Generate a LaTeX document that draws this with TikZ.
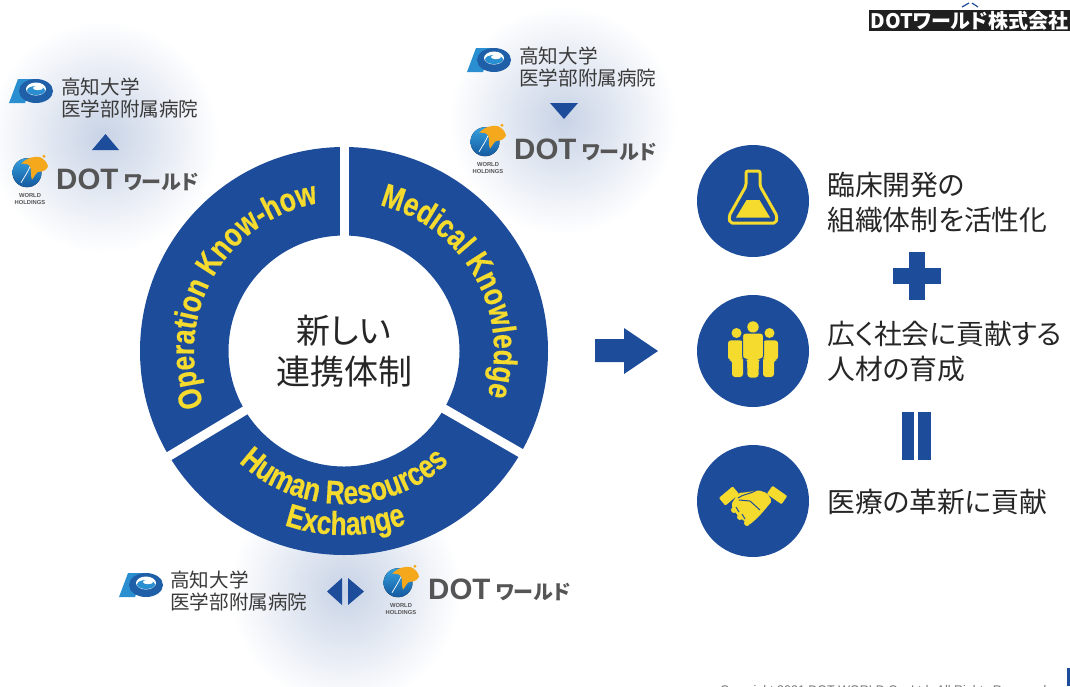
\documentclass[tikz,border=0pt]{standalone}
\usepackage{fontspec}
\usetikzlibrary{decorations.text}

\newfontfamily\jpfont[RawFeature=+palt]{Noto Sans CJK JP}
\newfontfamily\latinfont{Liberation Sans}
\newfontfamily\ringfont[FakeStretch=0.8,FakeBold=0.5]{Liberation Sans}

\definecolor{ringblue}{HTML}{1D4C9A}
\definecolor{ringyellow}{HTML}{F4DB2E}
\definecolor{glowblue}{HTML}{C8D3E6}
\definecolor{kochilight}{HTML}{2A8FD0}
\definecolor{kochidark}{HTML}{1F5FA8}
\definecolor{globetop}{HTML}{35A0DE}
\definecolor{globelow}{HTML}{14599F}
\definecolor{globeorange}{HTML}{F5A81C}
\definecolor{wordgrey}{HTML}{555555}
\definecolor{textgrey}{HTML}{3A3A3A}

\newcommand{\dotname}{\latinfont\bfseries\fontsize{29.5}{29.5}\selectfont DOT\hspace{5pt}\jpfont\bfseries\fontsize{20}{20}\selectfont ワールド}

\begin{document}
\begin{tikzpicture}
    [
        x=1pt,
        y=1pt,
        glow/.style={inner color=glowblue, outer color=white},
        hosp/.style={
                anchor=west,
                inner sep=0pt,
                align=left,
                text=textgrey,
                font=\jpfont\fontsize{19.6}{22}\selectfont,
            },
        result/.style={
                anchor=west,
                inner sep=0pt,
                align=left,
                text=black!85,
                font=\jpfont\fontsize{27.8}{35}\selectfont,
            },
        badge/.style={
                circle,
                inner sep=0pt,
                minimum size=112pt,
                fill=ringblue,
            },
        ringtext/.style={
                decorate,
                decoration={
                        text along path,
                        text align=center,
                        text={|\ringfont\bfseries\fontsize{#1}{#1}\selectfont\color{ringyellow}|\ringlabel},
                    },
            },
        kochilogo/.pic={
                \fill [kochilight] (-22,-12) -- (-13,12) -- (3,12) -- (-6,-12) -- cycle;
                \fill [kochidark] (5,0) ellipse [x radius=17, y radius=12];
                \fill [white] (5,2) ellipse [x radius=10, y radius=6.5];
                \fill [kochilight] (5,0.5) ellipse [x radius=9, y radius=4.5];
                \fill [white] (7,3) ellipse [x radius=5, y radius=2.2];
            },
        dotlogo/.pic={
                \fill [top color=globetop, bottom color=globelow] (0,0) circle [radius=14.5];
                \fill [globeorange] (-6,9) .. controls (0,15) and (8,17) .. (13,15.5)
                    .. controls (17,14) and (20.5,10) .. (21,6)
                    .. controls (19,2) and (15,1) .. (13,1)
                    .. controls (10,2) and (8,-3) .. (5,-7)
                    .. controls (3,-2) and (5,3) .. (3,6)
                    .. controls (2,9) and (-2,9) .. (-6,9) -- cycle;
                \fill [globeorange] (17,16.5) circle [radius=1.6];
                \draw [white, line width=0.7pt] (-6,-10) .. controls (-3,-5) and (1,1) .. (3,6);
                \node [inner sep=0pt, text=wordgrey, font=\latinfont\bfseries\fontsize{5.8}{7}\selectfont, align=center] (-world) at (3,-26.5) {WORLD\\HOLDINGS};
            },
        dotword/.style={
                anchor=west,
                inner sep=0pt,
                text=wordgrey,
            },
    ]

    \useasboundingbox (0,0) rectangle (1070,-686);

    % soft glows behind the partners
    \shade [glow] (103,-137) circle [radius=116];
    \shade [glow] (563,-120) circle [radius=114];
    \shade [glow] (345,-590) circle [radius=116];

    % ring with three gaps
    \coordinate (ringc) at (344,-351);
    \fill [ringblue, even odd rule] (ringc) circle [radius=204] (ringc) circle [radius=115.5];
    \draw [white, line width=9pt] (ringc) -- ++(90:207);
    \draw [white, line width=9pt] (ringc) -- ++(211:207);
    \draw [white, line width=9pt] (ringc) -- ++(330:207);

    % labels on the ring
    \def\ringlabel{Operation Know-how}
    \path [ringtext=33] (ringc) ++(220:150) arc [start angle=220, end angle=81, radius=150];
    \def\ringlabel{Medical Knowledge}
    \path [ringtext=33] (ringc) ++(99:150) arc [start angle=99, end angle=-40, radius=150];
    \def\ringlabel{Human Resources}
    \path [ringtext=33] (ringc) ++(205:153) arc [start angle=205, end angle=335, radius=153];
    \def\ringlabel{Exchange}
    \path [ringtext=33] (ringc) ++(226.5:184) arc [start angle=226.5, end angle=314.5, radius=184];

    \node [inner sep=0pt, align=center, text=black!85, font=\jpfont\fontsize{34}{41}\selectfont] (center) at (344,-351) {新しい\\連携体制};

    % top left partners
    \pic at (31,-91) {kochilogo};
    \node [hosp] (hospa) at (61,-98) {高知大学\\医学部附属病院};
    \fill [ringblue] (92,-150) -- (119,-150) -- (105.5,-134) -- cycle;
    \pic (doa) at (27,-172.7) {dotlogo};
    \node [dotword] (worda) at (56,-180) {\dotname};

    % top right partners
    \pic at (489,-60) {kochilogo};
    \node [hosp] (hospb) at (519,-67) {高知大学\\医学部附属病院};
    \fill [ringblue] (550,-103) -- (578,-103) -- (564,-119) -- cycle;
    \pic (dob) at (485,-141.7) {dotlogo};
    \node [dotword] (wordb) at (514,-150) {\dotname};

    % bottom partners
    \pic at (141,-585) {kochilogo};
    \node [hosp] (hospc) at (170,-591) {高知大学\\医学部附属病院};
    \fill [ringblue] (342,-578) -- (342,-605) -- (327,-591.5) -- cycle;
    \fill [ringblue] (348,-578) -- (348,-605) -- (364,-591.5) -- cycle;
    \pic (doc) at (398,-582.7) {dotlogo};
    \node [dotword] (wordc) at (428,-590) {\dotname};

    % arrow to the results
    \fill [ringblue] (595,-339) -- (624,-339) -- (624,-328) -- (658,-351) -- (624,-374) -- (624,-362) -- (595,-362) -- cycle;

    % results column
    \node [badge] (flask) at (753,-201) {};
    \node [badge] (people) at (753,-351) {};
    \node [badge] (hands) at (753,-501) {};

    \begin{scope}[shift={(flask.center)}]
        \draw [ringyellow, line width=3pt, rounded corners=2pt, line join=round] (-7,30) -- (7,30) -- (7,15) -- (24,-15) -- (23,-22) -- (-23,-22) -- (-24,-15) -- (-7,15) -- cycle;
        \fill [ringyellow] (-6.5,1) -- (6.5,1) -- (17,-16.5) -- (-17,-16.5) -- cycle;
    \end{scope}

    \begin{scope}[shift={(people.center)}]
        \foreach \side in {-1,1} {
                \fill [ringyellow] (\side*16.5,18) circle [radius=5];
                \fill [ringyellow, rounded corners=3pt] (\side*25,10.7) -- (\side*10,10.7) -- (\side*10,-26) -- (\side*21,-26) -- (\side*21,-9) -- (\side*25,-9) -- cycle;
            }
        \fill [ringyellow] (0,24) circle [radius=5.7];
        \draw [ringblue, fill=ringyellow, line width=1pt, rounded corners=3pt] (-10.5,18) -- (10.5,18) -- (10.5,-8) -- (6.5,-8) -- (6,-27) -- (-6,-27) -- (-6.5,-8) -- (-10.5,-8) -- cycle;
    \end{scope}

    \begin{scope}[shift={(hands.center)}]
        \fill [ringyellow, rotate around={40:(-24,5)}, rounded corners=1pt] (-33,0) rectangle (-15,10);
        \fill [ringyellow, rotate around={-35:(24,6)}, rounded corners=1pt] (15,1) rectangle (33,11);
        \fill [ringyellow, rounded corners=2pt] (-15,8) -- (-4,9) -- (5,11) -- (14,8) -- (19,0) -- (9,-12) -- (1,-20) -- (-4,-24) -- (-16,-14) -- (-22,-4) -- cycle;
        \fill [ringyellow] (-19,-9) circle [radius=3] (-13,-16) circle [radius=3] (-6,-22) circle [radius=3];
        \draw [ringblue, line width=1pt] (-15,3) .. controls (-10,7) and (-2,7) .. (4,11) (-14,1) -- (-3,0) -- (7,-9) (-17,-6) -- (-14,-11) (-11,-13) -- (-8,-18);
    \end{scope}

    \fill [ringblue] (893,-268) rectangle (941,-284);
    \fill [ringblue] (909,-252) rectangle (925,-300);
    \fill [ringblue] (902,-412) rectangle (914,-460);
    \fill [ringblue] (918,-412) rectangle (931,-460);

    \node [result] (resa) at (827,-203) {臨床開発の\\組織体制を活性化};
    \node [result] (resb) at (827,-352) {広く社会に貢献する\\人材の育成};
    \node [result] (resc) at (827,-502) {医療の革新に貢献};

    % page furniture
    \node [anchor=north east, inner sep=0pt, fill=black!88, text=white, minimum height=21pt, minimum width=201pt, font=\jpfont\bfseries\fontsize{20}{20}\selectfont] (brand) at (1070,-10) {DOTワールド株式会社};
    \draw [ringblue, line width=1.2pt] (962,-7) -- (969,-3);
    \draw [ringblue, line width=1.2pt] (972,-3) -- (978,-7);
    \node [anchor=base west, inner sep=0pt, text=black!55, font=\latinfont\fontsize{12.5}{12.5}\selectfont] (copy) at (720,-694) {Copyright 2021 DOT WORLD Co.,Ltd. All Rights Reserved.};
    \fill [ringblue] (1067,-668) rectangle (1070,-686);
\end{tikzpicture}
\end{document}
